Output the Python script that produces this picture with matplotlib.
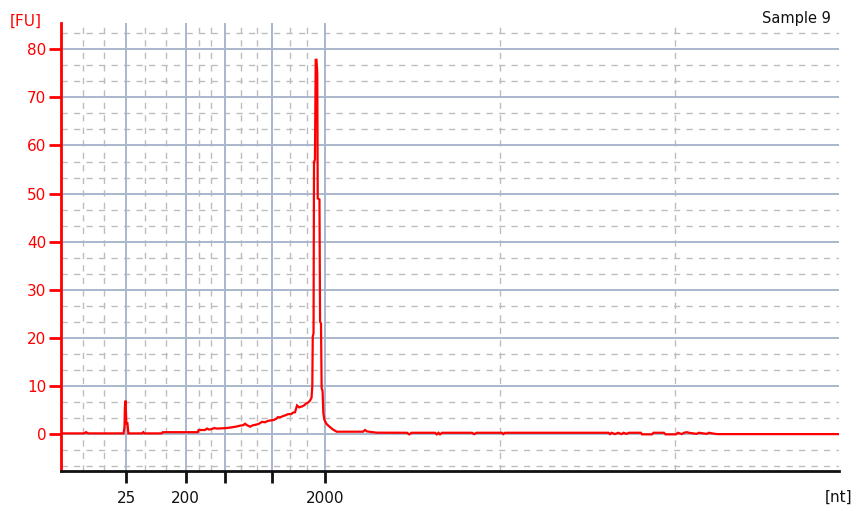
import matplotlib
matplotlib.use("Agg")
import matplotlib.pyplot as plt

# ---- data ----
time_s = [19.00, 20.48, 20.61, 20.74, 23.02, 23.08, 23.11, 23.15, 23.20, 23.27, 23.33,
          24.21, 24.29, 24.37, 25.47, 25.54, 27.79, 27.84, 28.25, 28.38, 28.51, 28.70,
          28.83, 29.03, 29.35, 29.60, 29.86, 30.05, 30.25, 30.50, 30.70, 30.83, 30.95,
          31.15, 31.34, 31.53, 31.72, 31.92, 32.11, 32.30, 32.50, 32.69, 32.82, 32.95,
          33.07, 33.27, 33.46, 33.59, 33.78, 33.91, 34.04, 34.17, 34.30, 34.49, 34.62,
          34.75, 34.88, 35.00, 35.10, 35.15, 35.18, 35.23, 35.26, 35.32, 35.37, 35.42,
          35.47, 35.50, 35.61, 35.65, 35.71, 35.75, 35.81, 35.86, 35.93, 36.08, 36.29,
          36.48, 36.72, 38.41, 38.54, 38.67, 39.29,
          41.24, 41.38, 41.53, 43.04, 43.15, 43.26, 43.36, 43.49, 45.41, 45.56, 45.70,
          47.34, 47.42, 47.53, 54.19, 54.28, 54.39, 54.60, 54.80, 55.03, 55.15, 55.35,
          55.50, 56.27, 56.34, 56.98, 57.08, 57.75, 57.85, 58.52, 58.65, 58.89, 59.04,
          59.21, 59.36, 59.85, 60.00, 60.50, 60.64, 61.03, 61.22, 69.00]
fu = [0.2, 0.2, 0.45, 0.2, 0.2, 1.5, 6.0, 7.0, 2.3, 2.3, 0.2,
      0.2, 0.45, 0.2, 0.2, 0.45, 0.45, 0.9, 0.9, 1.2, 1.0, 1.1,
      1.3, 1.2, 1.25, 1.3, 1.4, 1.5, 1.6, 1.8, 1.9, 2.2, 1.9,
      1.6, 1.9, 2.0, 2.2, 2.6, 2.5, 2.8, 2.9, 3.0, 3.2, 3.6,
      3.5, 3.8, 4.0, 4.2, 4.2, 4.5, 4.6, 6.0, 5.6, 5.8, 6.0,
      6.4, 6.6, 7.0, 7.6, 10.0, 20.3, 21.0, 56.6, 57.0, 77.8, 77.8,
      75.0, 49.0, 48.8, 23.4, 23.0, 9.6, 9.0, 4.4, 3.0, 2.1, 1.5,
      1.0, 0.55, 0.55, 0.9, 0.6, 0.35,
      0.33, 0.0, 0.33, 0.33, 0.0, 0.33, 0.0, 0.33, 0.33, 0.05, 0.33,
      0.33, 0.05, 0.33, 0.33, 0.05, 0.33, 0.05, 0.33, 0.05, 0.33, 0.1,
      0.33, 0.33, 0.0, 0.0, 0.33, 0.33, 0.0, 0.0, 0.33, 0.05, 0.33,
      0.45, 0.33, 0.1, 0.33, 0.1, 0.33, 0.1, 0.05, 0.05]

x_ticks = [23.18, 27.01, 29.56, 32.58, 35.97]
x_tick_labels = ["25", "200", "", "", "2000"]
x_minor = [20.39, 21.78, 24.43, 25.72, 27.87, 28.67, 30.56, 31.58, 33.72, 34.83, 47.21, 58.44]
y_ticks = [0, 10, 20, 30, 40, 50, 60, 70, 80]
y_minor = [v / 3 * 10 for v in range(-2, 26) if v % 3 != 0]

# ---- figure ----
fig = plt.figure(figsize=(8.57, 5.11), dpi=100)
ax = fig.add_axes([61 / 857, 40.3 / 511, 778 / 857, 448 / 511])
ax.set_xlim(19, 69)
ax.set_ylim(-7.55, 85.5)

grid_major = "#a9b7cc"
grid_minor = "#bdbdbd"
for x in x_minor:
    ax.axvline(x, color=grid_minor, lw=1.0, ls=(0, (4.5, 4.5)), zorder=1)
for y in y_minor:
    ax.axhline(y, color=grid_minor, lw=1.0, ls=(0, (4.5, 4.5)), zorder=1)
for x in x_ticks:
    ax.axvline(x, color=grid_major, lw=1.4, zorder=2)
for y in y_ticks:
    ax.axhline(y, color=grid_major, lw=1.4, zorder=2)

ax.plot(time_s, fu, color="#ff0000", lw=1.6, zorder=3, solid_joinstyle="miter")

ax.set_xticks(x_ticks)
ax.set_xticklabels(x_tick_labels)
ax.set_yticks(y_ticks)

for s in ["top", "right"]:
    ax.spines[s].set_visible(False)
ax.spines["left"].set_color("#ff0000")
ax.spines["left"].set_linewidth(2)
ax.spines["bottom"].set_color("#111111")
ax.spines["bottom"].set_linewidth(2)

ax.tick_params(axis="y", colors="#ff0000", labelcolor="#ff0000", length=8.5, width=2,
               labelsize=11, pad=2)
ax.tick_params(axis="x", colors="#111111", labelcolor="#111111", length=8.5, width=2,
               labelsize=11, pad=6)

fig.text(26 / 857, 1 - 21 / 511, "[FU]", color="#ff0000", fontsize=11, ha="center", va="center")
fig.text(839 / 857, 1 - 497 / 511, "[nt]", color="#111111", fontsize=11, ha="center", va="center")
fig.text(831 / 857, 1 - 18 / 511, "Sample 9", color="#111111", fontsize=10.5, ha="right", va="center")

fig.savefig("out.png", dpi=100)
